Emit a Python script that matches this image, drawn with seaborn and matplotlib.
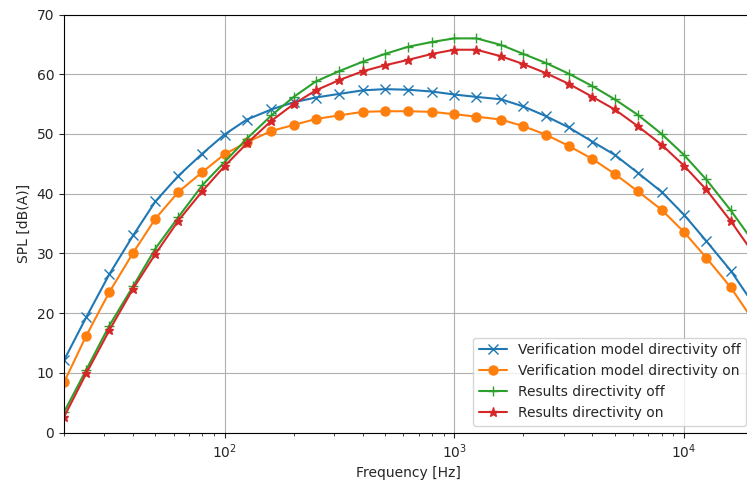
import matplotlib
matplotlib.use("Agg")
import matplotlib.pyplot as plt
import seaborn as sns
import numpy as np
import pandas as pd

freqs = [20, 25, 31.5, 40, 50, 63, 80, 100, 125, 160, 200, 250, 315, 400, 500, 630,
         800, 1000, 1250, 1600, 2000, 2500, 3150, 4000, 5000, 6300, 8000, 10000,
         12500, 16000, 20000]

verif_off = [12.1, 19.3, 26.5, 33.0, 38.7, 43.0, 46.7, 49.9, 52.4, 54.1, 55.3, 56.1,
             56.7, 57.3, 57.5, 57.4, 57.1, 56.6, 56.2, 55.8, 54.6, 53.0, 51.1, 48.7,
             46.5, 43.5, 40.3, 36.5, 32.1, 27.1, 21.6]
verif_on = [8.4, 16.2, 23.5, 30.1, 35.8, 40.3, 43.6, 46.6, 48.6, 50.5, 51.5, 52.5,
            53.1, 53.7, 53.8, 53.8, 53.7, 53.3, 52.9, 52.4, 51.3, 49.9, 48.0, 45.8,
            43.3, 40.4, 37.3, 33.6, 29.3, 24.3, 18.8]
results_off = [3.4, 10.5, 17.9, 24.5, 30.8, 36.1, 41.4, 45.3, 49.2, 53.1, 56.2, 58.8,
               60.5, 62.1, 63.4, 64.6, 65.4, 66.0, 66.0, 64.9, 63.4, 61.9, 60.1, 58.0,
               55.8, 53.2, 50.0, 46.5, 42.4, 37.2, 32.0]
results_on = [2.6, 9.9, 17.1, 24.1, 29.9, 35.5, 40.4, 44.6, 48.4, 52.2, 55.0, 57.3,
              59.0, 60.5, 61.5, 62.4, 63.4, 64.1, 64.1, 63.0, 61.7, 60.2, 58.4, 56.2,
              54.1, 51.3, 48.2, 44.7, 40.7, 35.4, 30.1]

labels = ["Verification model directivity off", "Verification model directivity on",
          "Results directivity off", "Results directivity on"]

series = [verif_off, verif_on, results_off, results_on]
markers = ["x", "o", "+", "*"]
colors = ["#1f77b4", "#ff7f0e", "#2ca02c", "#d62728"]

sns.set_style("ticks")
plt.rcParams['font.family'] = ['DejaVu Sans']

fig = plt.figure(figsize=(7.47, 4.87), dpi=100)
ax = fig.add_axes([64/747, (487-432.5)/487, (753-64)/747, (432.5-14.5)/487])

for vals, lab, m, c in zip(series, labels, markers, colors):
    df = pd.DataFrame({"Frequency": freqs, "SPL": vals})
    sns.lineplot(data=df, x="Frequency", y="SPL", ax=ax, color=c, marker=m,
                 markersize=6.5, markeredgecolor=c, markerfacecolor=c,
                 markeredgewidth=1.0, linewidth=1.5, label=lab)

ax.set_xscale("log")
ax.set_xlim(20, 20000)
ax.set_ylim(0, 70)
ax.set_yticks(range(0, 71, 10))
ax.grid(True, which="major", color="#b0b0b0", linewidth=0.8)
ax.set_xlabel("Frequency [Hz]", fontsize=10)
ax.set_ylabel("SPL [dB(A)]", fontsize=10)
ax.tick_params(labelsize=10)
for s in ax.spines.values():
    s.set_color("black")
    s.set_linewidth(0.8)
ax.legend(loc="lower right", fontsize=10, frameon=True, framealpha=0.8)

fig.savefig("out.png", dpi=100)
